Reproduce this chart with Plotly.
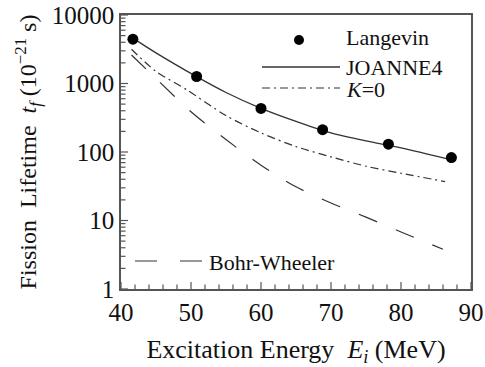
import plotly.graph_objects as go

# Langevin points
lang_E = [41.7, 50.8, 60.0, 68.8, 78.2, 87.2]
lang_t = [4430, 1265, 432, 212, 130, 83]

# JOANNE4 solid curve
jo_E = [41.7, 45, 50.8, 55, 60, 65, 70, 75, 80, 87.2]
jo_t = [4600, 2800, 1260, 740, 434, 280, 190, 145, 115, 77]

# K=0 dash-dot curve
k0_E = [41.5, 45, 49.4, 55, 60, 65, 70, 75, 80, 86.3]
k0_t = [3160, 1500, 809, 340, 190, 120, 85, 62, 49, 37]

# Bohr-Wheeler dashed curve
bw_E = [41.5, 45, 50, 55, 60, 65, 70, 75, 80, 86]
bw_t = [2610, 1180, 387, 152, 64, 31, 18, 11.2, 6.8, 3.8]

x_ticks = [40, 50, 60, 70, 80, 90]
x_minor = [x for x in range(42, 90, 2) if x % 10]
y_ticks = [1, 10, 100, 1000, 10000]
y_tick_text = ["1", "10", "100", "1000", "10000"]
y_minor = [m * d for d in [1, 10, 100, 1000] for m in range(2, 10)]

FONT = "Liberation Serif, Tinos, Nimbus Roman, Times, DejaVu Serif, serif"
LINE = "#333333"
AX = "#555555"

fig = go.Figure()
fig.add_trace(go.Scatter(x=bw_E, y=bw_t, mode="lines", line=dict(color=LINE, width=1.2, dash="20px,20px", shape="spline", smoothing=0.8), showlegend=False))
fig.add_trace(go.Scatter(x=k0_E, y=k0_t, mode="lines", line=dict(color=LINE, width=1.2, dash="8px,4px,2px,4px", shape="spline", smoothing=0.8), showlegend=False))
fig.add_trace(go.Scatter(x=jo_E, y=jo_t, mode="lines", line=dict(color=LINE, width=1.3, shape="spline", smoothing=0.8), showlegend=False))
fig.add_trace(go.Scatter(x=lang_E, y=lang_t, mode="markers", marker=dict(color="black", size=11), showlegend=False))

W, H = 485, 367
L, R, T, B = 121, 14, 15, 78
PW, PH = W - L - R, H - T - B

def px(x):
    return (x - L) / PW

def py(y):
    return 1 - (y - T) / PH

shapes = []
annotations = []

# tick marks along the bottom and left axes, placed through the axis scales
for v in x_ticks:
    shapes.append(dict(type="line", xref="x", yref="paper", x0=v, x1=v, y0=0, y1=7 / PH, layer="above", line=dict(color=AX, width=1.2)))
for v in x_minor:
    shapes.append(dict(type="line", xref="x", yref="paper", x0=v, x1=v, y0=0, y1=4.5 / PH, layer="above", line=dict(color=AX, width=1.2)))
for v in y_ticks:
    shapes.append(dict(type="line", xref="paper", yref="y", x0=0, x1=7 / PW, y0=v, y1=v, layer="above", line=dict(color=AX, width=1.2)))
for v in y_minor:
    shapes.append(dict(type="line", xref="paper", yref="y", x0=0, x1=4.5 / PW, y0=v, y1=v, layer="above", line=dict(color=AX, width=1.2)))

# legend (manual)
shapes.append(dict(type="circle", xref="paper", yref="paper", x0=px(294), x1=px(304), y0=py(35), y1=py(45), fillcolor="black", line=dict(width=0)))
shapes.append(dict(type="line", xref="paper", yref="paper", x0=px(262), x1=px(340), y0=py(67), y1=py(67), line=dict(color=LINE, width=1.3)))
shapes.append(dict(type="line", xref="paper", yref="paper", x0=px(262), x1=px(340), y0=py(88), y1=py(88), line=dict(color=LINE, width=1.2, dash="8px,4px,2px,4px")))
shapes.append(dict(type="line", xref="paper", yref="paper", x0=px(135), x1=px(207), y0=py(261), y1=py(261), line=dict(color=LINE, width=1.2, dash="22px,23px")))
for txt, y in [("Langevin", 38), ("JOANNE4", 67), ("<i>K</i>=0", 89)]:
    annotations.append(dict(text=txt, xref="paper", yref="paper", x=px(344), y=py(y), xanchor="left", yanchor="middle", showarrow=False, font=dict(family=FONT, size=22, color="#111")))
annotations.append(dict(text="Bohr-Wheeler", xref="paper", yref="paper", x=px(207), y=py(262), xanchor="left", yanchor="middle", showarrow=False, font=dict(family=FONT, size=22, color="#111")))

fig.update_layout(
    width=W, height=H,
    margin=dict(l=L, r=R, t=T, b=B, autoexpand=False),
    paper_bgcolor="white", plot_bgcolor="white",
    font=dict(family=FONT, size=22, color="#111"),
    shapes=shapes, annotations=annotations,
    xaxis=dict(range=[40, 90], tickmode="array", tickvals=x_ticks, ticks="", ticklen=8,
               showline=True, linecolor=AX, linewidth=1.5, mirror=True, showgrid=False, zeroline=False,
               tickfont=dict(family=FONT, size=25), automargin=False,
               title=dict(text="Excitation Energy  <i>E<sub>i</sub></i> (MeV)", font=dict(family=FONT, size=26), standoff=16)),
    yaxis=dict(type="log", range=[0, 4], tickmode="array", tickvals=y_ticks, ticktext=y_tick_text,
               ticks="", ticklen=8,
               showline=True, linecolor=AX, linewidth=1.5, mirror=True, showgrid=False, zeroline=False,
               tickfont=dict(family=FONT, size=25), automargin=False,
               title=dict(text="Fission  Lifetime  <i>t<sub>f</sub></i> (10<sup>−21</sup> s)", font=dict(family=FONT, size=24), standoff=8)),
)

fig.write_html("out.html", config={"displayModeBar": False},
               post_script="document.body.style.margin='0';document.body.style.padding='0';")
